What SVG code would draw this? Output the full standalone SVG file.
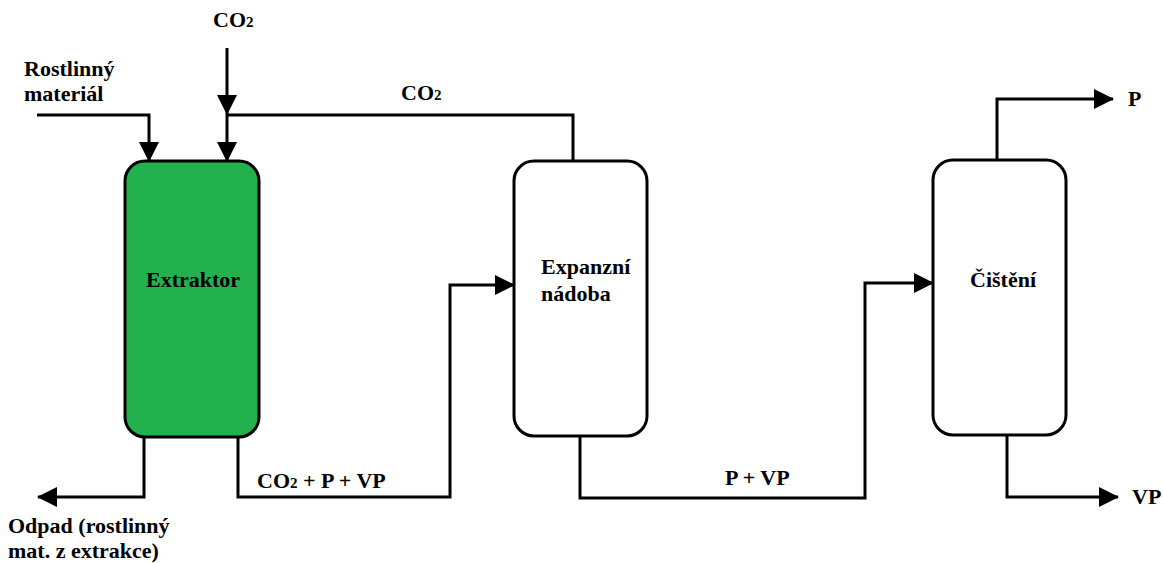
<svg xmlns="http://www.w3.org/2000/svg" width="1163" height="563" viewBox="0 0 1163 563">
<style>
.t{font-family:"Liberation Serif","Times New Roman",serif;font-weight:bold;font-size:22px;fill:#000}
.s{font-size:15px}
.box{stroke:#000;stroke-width:3}
.ln{fill:none;stroke:#000;stroke-width:3}
</style>
<defs>
<marker id="ah" markerUnits="userSpaceOnUse" markerWidth="20" markerHeight="22" refX="19" refY="10" orient="auto">
<path d="M0,0 L20,10 L0,20 Z" fill="#000"/>
</marker>
</defs>
<rect width="1163" height="563" fill="#fff"/>
<g id="connectors">
<polyline class="ln" points="37,115 149,115 149,161" marker-end="url(#ah)"/>
<line class="ln" x1="227" y1="48" x2="227" y2="114" marker-end="url(#ah)"/>
<polyline class="ln" points="227,114 227,161" marker-end="url(#ah)"/>
<polyline class="ln" points="227,115 573,115 573,160"/>
<polyline class="ln" points="144,437 144,497 38,497" marker-end="url(#ah)"/>
<polyline class="ln" points="238,437 238,497 450,497 450,285 514,285" marker-end="url(#ah)"/>
<polyline class="ln" points="580,436 580,498 865,498 865,283 933,283" marker-end="url(#ah)"/>
<polyline class="ln" points="997,160 997,99 1113,99" marker-end="url(#ah)"/>
<polyline class="ln" points="1007,435 1007,497 1118,497" marker-end="url(#ah)"/>
</g>
<g id="extraktor">
<rect class="box" x="125" y="161" width="134" height="276" rx="20" fill="#22B14C"/>
<text class="t" x="193" y="287" text-anchor="middle">Extraktor</text>
</g>
<g id="expanzni">
<rect class="box" x="514" y="161" width="133" height="275" rx="20" fill="#fff"/>
<text class="t" x="541" y="274">Expanzní</text>
<text class="t" x="541" y="301">nádoba</text>
</g>
<g id="cisteni">
<rect class="box" x="933" y="160" width="133" height="275" rx="20" fill="#fff"/>
<text class="t" x="970" y="287">Čištění</text>
</g>
<g id="labels">
<text class="t" x="24" y="76">Rostlinný</text>
<text class="t" x="24" y="101">materiál</text>
<text class="t" x="213" y="27">CO<tspan class="s">2</tspan></text>
<text class="t" x="401" y="100">CO<tspan class="s">2</tspan></text>
<text class="t" x="257" y="488">CO<tspan class="s">2</tspan> + P + VP</text>
<text class="t" x="725" y="485">P + VP</text>
<text class="t" x="1128" y="106">P</text>
<text class="t" x="1132" y="504">VP</text>
<text class="t" x="8" y="533">Odpad (rostlinný</text>
<text class="t" x="8" y="558">mat. z extrakce)</text>
</g>
</svg>
